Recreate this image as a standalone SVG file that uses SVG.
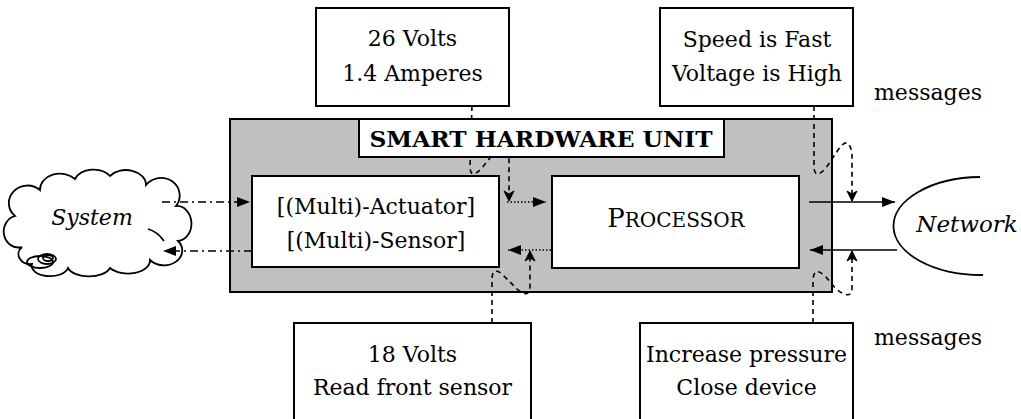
<svg xmlns="http://www.w3.org/2000/svg" width="1021" height="419" viewBox="0 0 1021 419">
<style>
  .box { fill: #ffffff; stroke: #000000; stroke-width: 2; }
  .unit { fill: #c0c0c0; stroke: #000000; stroke-width: 2; }
  .t { font-family: "DejaVu Serif", "Liberation Serif", serif; font-size: 22px; fill: #000000; text-anchor: middle; }
  .ti { font-family: "DejaVu Serif", "Liberation Serif", serif; font-style: italic; fill: #000000; text-anchor: middle; }
  .solid { fill: none; stroke: #000000; stroke-width: 1.6; }
  .dashdot { fill: none; stroke: #000000; stroke-width: 1.6; stroke-dasharray: 8 4 2 4; }
  .dotted { fill: none; stroke: #000000; stroke-width: 1.6; stroke-dasharray: 1.5 2; }
  .dashed { fill: none; stroke: #000000; stroke-width: 1.6; stroke-dasharray: 5 4; }
  .outline { fill: none; stroke: #000000; stroke-width: 1.8; }
</style>
<defs>
  <marker id="tri" viewBox="0 0 13 10" refX="13" refY="5" markerWidth="13" markerHeight="10" markerUnits="userSpaceOnUse" orient="auto">
    <path d="M0,0 L13,5 L0,10 Z" fill="#000000"/>
  </marker>
  <marker id="barb" viewBox="0 0 12 12" refX="11" refY="6" markerWidth="12" markerHeight="12" markerUnits="userSpaceOnUse" orient="auto">
    <path d="M1,1 L11,6 L1,11 L4,6 Z" fill="#000000" stroke="#000000" stroke-width="1" stroke-linejoin="miter"/>
  </marker>
</defs>

<g id="system">
  <path class="outline" d="M22,247 A13,14 0 0 1 15,216 A16,15 0 0 1 40,190 A20,16 0 0 1 75,179 A20,15 0 0 1 110,176 A20,15 0 0 1 146,185 A18,17 0 0 1 176,206 A14,17 0 0 1 178,241 A16,13 0 0 1 150,260 A22,13 0 0 1 110,268 A22,12 0 0 1 68,268 A18,10 0 0 1 32,264 A12,10 0 0 1 22,247 Z" fill="#ffffff"/>
  <path class="outline" d="M148,229 Q158,232 164,241" stroke-width="1.2"/>
  <ellipse cx="40" cy="262" rx="13" ry="6" class="outline" stroke-width="1.3"/>
  <ellipse cx="47" cy="259" rx="9" ry="5" class="outline" stroke-width="1.2"/>
  <ellipse cx="48" cy="258" rx="5" ry="3" class="outline" stroke-width="1.1"/>
  <text class="ti" x="92" y="225" font-size="22">System</text>
</g>

<g id="hardware-unit">
  <rect class="unit" x="230" y="119" width="602" height="173"/>
</g>

<g id="actuator-sensor">
  <rect class="box" x="252" y="176" width="247" height="91"/>
  <text class="t" x="376" y="214" font-size="23">[(Multi)-Actuator]</text>
  <text class="t" x="376" y="248" font-size="23">[(Multi)-Sensor]</text>
</g>

<g id="processor">
  <rect class="box" x="552" y="176" width="247" height="92"/>
  <text class="t" x="676" y="227"><tspan font-size="26">P</tspan><tspan font-size="20">ROCESSOR</tspan></text>
</g>

<g id="network">
  <path class="outline" d="M980,177 A88,49 0 0 0 983,275"/>
  <text class="ti" x="967" y="232" font-size="23">Network</text>
</g>

<g id="connectors">
  <path class="dashdot" d="M162,202 L250,202" marker-end="url(#tri)"/>
  <path class="dashdot" d="M252,251 L163,251" marker-end="url(#tri)"/>
  <path class="dotted" d="M507,202 L546,202" marker-end="url(#tri)"/>
  <path class="dotted" d="M551,250 L508,250" marker-end="url(#tri)"/>
  <path class="solid" d="M809,202 L895,202" marker-end="url(#tri)"/>
  <path class="solid" d="M897,250 L810,250" marker-end="url(#tri)"/>
  <path class="dashed" d="M472,106 L470,166 Q470,180 481,169 L490,158 Q500,140 509,150 L509,201" marker-end="url(#barb)"/>
  <path class="dashed" d="M492,323 L492,278 Q493,265 504,276 L518,290 Q530,299 530,286 L530,251" marker-end="url(#barb)"/>
  <path class="dashed" d="M814,106 L814,168 Q815,180 826,168 L838,150 Q849,134 852,154 L852,201" marker-end="url(#barb)"/>
  <path class="dashed" d="M813,323 L813,280 Q814,265 826,277 L836,289 Q852,301 852,288 L852,251" marker-end="url(#barb)"/>
</g>

<g id="hardware-unit-title">
  <rect class="box" x="359" y="119" width="365" height="38"/>
  <text class="t" x="541" y="147" font-weight="bold" textLength="343" lengthAdjust="spacingAndGlyphs">SMART HARDWARE UNIT</text>
</g>

<g id="msg-volts-in">
  <rect class="box" x="316" y="8" width="193" height="98"/>
  <text class="t" x="412.5" y="46">26 Volts</text>
  <text class="t" x="412.5" y="81">1.4 Amperes</text>
</g>

<g id="msg-status">
  <rect class="box" x="660" y="8" width="193" height="98"/>
  <text class="t" x="757" y="47">Speed is Fast</text>
  <text class="t" x="757" y="81">Voltage is High</text>
</g>

<g id="msg-volts-out">
  <rect class="box" x="294" y="323" width="237" height="110"/>
  <text class="t" x="412.5" y="362">18 Volts</text>
  <text class="t" x="412.5" y="395">Read front sensor</text>
</g>

<g id="msg-commands">
  <rect class="box" x="640" y="323" width="213" height="110"/>
  <text class="t" x="746.5" y="362">Increase pressure</text>
  <text class="t" x="746.5" y="395">Close device</text>
</g>

<g id="labels">
  <text class="t" x="928" y="100">messages</text>
  <text class="t" x="928" y="345">messages</text>
</g>
</svg>
